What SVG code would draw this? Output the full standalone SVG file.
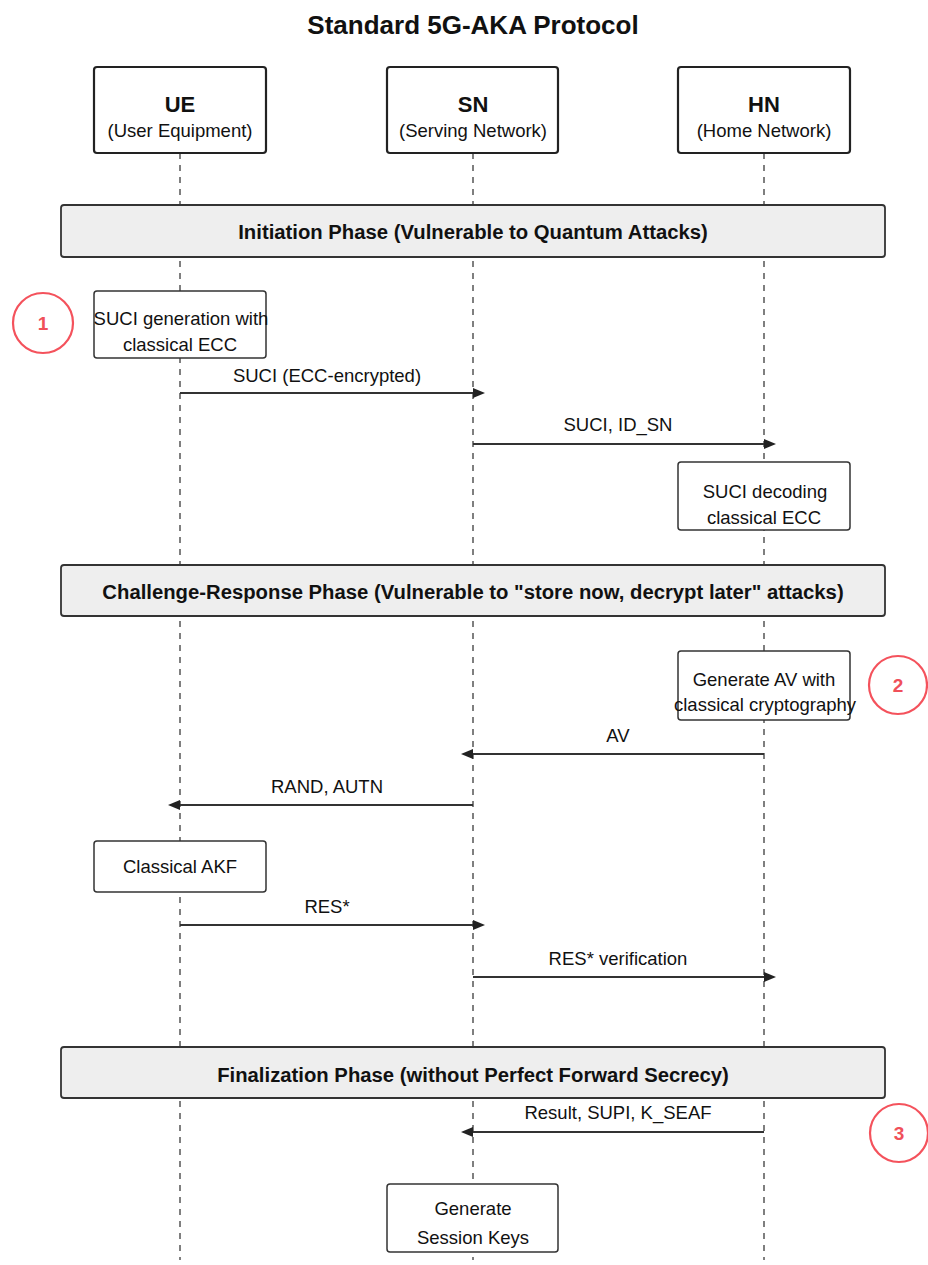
<svg xmlns="http://www.w3.org/2000/svg" width="928" height="1265" viewBox="0 0 928 1265">
<defs>
<style>
.t{font-family:"Liberation Sans",Arial,sans-serif;fill:#111;text-anchor:middle}
.b{font-size:18.5px}
.m{font-size:18.5px}
.ph{font-size:20.3px;font-weight:bold}
.box{fill:#fff;stroke:#333;stroke-width:1.5}
.actor{fill:#fff;stroke:#222;stroke-width:2.2}
.phase{fill:#eeeeee;stroke:#333;stroke-width:1.8}
.life{stroke:#555;stroke-width:1.5;stroke-dasharray:6,6;fill:none}
.msg{stroke:#333;stroke-width:1.8;fill:none}
.mark{fill:#fff;stroke:#f4525c;stroke-width:2.2}
.mt{font-family:"Liberation Sans",Arial,sans-serif;fill:#f0505a;text-anchor:middle;font-weight:bold;font-size:19px}
</style>
<marker id="ah" viewBox="0 0 12 10" refX="0" refY="5" markerWidth="12" markerHeight="10" markerUnits="userSpaceOnUse" orient="auto">
<path d="M0,0 L12,5 L0,10 z" fill="#222"/>
</marker>
</defs>
<rect width="928" height="1265" fill="#fff"/>
<text class="t" x="473" y="34" font-size="26" font-weight="bold">Standard 5G-AKA Protocol</text>

<g id="lifelines">
<line class="life" x1="180" y1="153" x2="180" y2="1260"/>
<line class="life" x1="473" y1="153" x2="473" y2="1260"/>
<line class="life" x1="764" y1="153" x2="764" y2="1260"/>
</g>

<g id="UE">
<rect class="actor" x="94" y="67" width="172" height="86" rx="3"/>
<text class="t" x="180" y="112" font-size="22" font-weight="bold">UE</text>
<text class="t b" x="180" y="137">(User Equipment)</text>
</g>
<g id="SN">
<rect class="actor" x="387" y="67" width="171" height="86" rx="3"/>
<text class="t" x="473" y="112" font-size="22" font-weight="bold">SN</text>
<text class="t b" x="473" y="137">(Serving Network)</text>
</g>
<g id="HN">
<rect class="actor" x="678" y="67" width="172" height="86" rx="3"/>
<text class="t" x="764" y="112" font-size="22" font-weight="bold">HN</text>
<text class="t b" x="764" y="137">(Home Network)</text>
</g>

<g id="phase1">
<rect class="phase" x="61" y="205" width="824" height="52" rx="3"/>
<text class="t ph" x="473" y="239">Initiation Phase (Vulnerable to Quantum Attacks)</text>
</g>

<g id="suci-gen">
<rect class="box" x="94" y="291" width="172" height="67" rx="3"/>
<text class="t b" x="181" y="325">SUCI generation with</text>
<text class="t b" x="180" y="351">classical ECC</text>
</g>
<g id="mark1">
<circle class="mark" cx="43" cy="323" r="30"/>
<text class="mt" x="43" y="330">1</text>
</g>

<g id="suci-dec">
<rect class="box" x="678" y="462" width="172" height="68" rx="3"/>
<text class="t b" x="765" y="498">SUCI decoding</text>
<text class="t b" x="764" y="524">classical ECC</text>
</g>

<g id="phase2">
<rect class="phase" x="61" y="565" width="824" height="51" rx="3"/>
<text class="t ph" x="473" y="599">Challenge-Response Phase (Vulnerable to "store now, decrypt later" attacks)</text>
</g>

<g id="gen-av">
<rect class="box" x="678" y="651" width="172" height="69" rx="3"/>
<text class="t b" x="764" y="686">Generate AV with</text>
<text class="t b" x="765" y="711">classical cryptography</text>
</g>
<g id="mark2">
<circle class="mark" cx="898" cy="685" r="29"/>
<text class="mt" x="898" y="692">2</text>
</g>

<g id="akf">
<rect class="box" x="94" y="841" width="172" height="51" rx="3"/>
<text class="t b" x="180" y="873">Classical AKF</text>
</g>

<g id="phase3">
<rect class="phase" x="61" y="1047" width="824" height="51" rx="3"/>
<text class="t ph" x="473" y="1082">Finalization Phase (without Perfect Forward Secrecy)</text>
</g>
<g id="mark3">
<circle class="mark" cx="899" cy="1133" r="29"/>
<text class="mt" x="899" y="1140">3</text>
</g>

<g id="session-keys">
<rect class="box" x="387" y="1184" width="171" height="68" rx="3"/>
<text class="t b" x="473" y="1215">Generate</text>
<text class="t b" x="473" y="1244">Session Keys</text>
</g>

<g id="connectors">
<line class="msg" x1="180" y1="393" x2="473" y2="393" marker-end="url(#ah)"/>
<text class="t m" x="327" y="382">SUCI (ECC-encrypted)</text>
<line class="msg" x1="473" y1="444" x2="764" y2="444" marker-end="url(#ah)"/>
<text class="t m" x="618" y="431">SUCI, ID_SN</text>
<line class="msg" x1="764" y1="754" x2="473" y2="754" marker-end="url(#ah)"/>
<text class="t m" x="618" y="742">AV</text>
<line class="msg" x1="473" y1="805" x2="180" y2="805" marker-end="url(#ah)"/>
<text class="t m" x="327" y="793">RAND, AUTN</text>
<line class="msg" x1="180" y1="925" x2="473" y2="925" marker-end="url(#ah)"/>
<text class="t m" x="327" y="913">RES*</text>
<line class="msg" x1="473" y1="977" x2="764" y2="977" marker-end="url(#ah)"/>
<text class="t m" x="618" y="965">RES* verification</text>
<line class="msg" x1="764" y1="1132" x2="473" y2="1132" marker-end="url(#ah)"/>
<text class="t m" x="618" y="1119">Result, SUPI, K_SEAF</text>
</g>
</svg>
